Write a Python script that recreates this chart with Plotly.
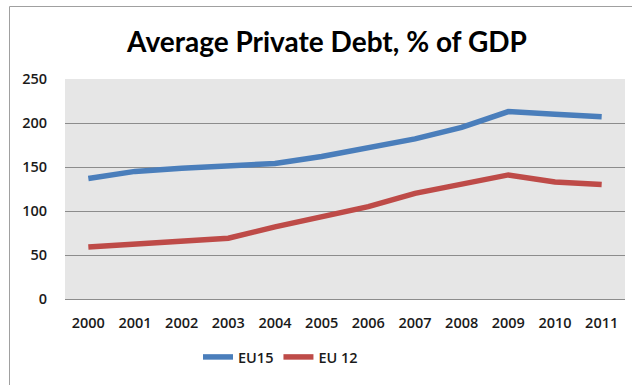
import plotly.graph_objects as go

years = ["2000", "2001", "2002", "2003", "2004", "2005",
         "2006", "2007", "2008", "2009", "2010", "2011"]
eu15 = [137, 145, 148.5, 152, 154, 162, 172, 182, 195, 213, 210, 207]
eu12 = [59, 62.5, 67, 69, 82, 93.5, 105, 120, 131, 141, 133, 130]
y_ticks = [0, 50, 100, 150, 200, 250]

FONT = "Lato"
TICK_FONT = dict(family="Open Sans", size=14.5, color="#1A1A1A", weight=600)

fig = go.Figure()
fig.add_trace(go.Scatter(x=years, y=eu15, mode="lines", name="EU15",
                         line=dict(color="#4A7EBB", width=5.5)))
fig.add_trace(go.Scatter(x=years, y=eu12, mode="lines", name="EU 12",
                         line=dict(color="#BE4B48", width=5.5)))

# outer chart frame (top and left edges)
frame = dict(type="line", xref="paper", yref="paper",
             line=dict(color="#A0A0A0", width=1))
fig.add_shape(**frame, x0=(9.5 - 65) / 560, x1=1.02,
              y0=(299 - 6.5) / 220, y1=(299 - 6.5) / 220)
fig.add_shape(**frame, x0=(9.5 - 65) / 560, x1=(9.5 - 65) / 560,
              y0=(299 - 390) / 220, y1=(299 - 6.5) / 220)

fig.update_layout(
    width=632, height=385,
    margin=dict(l=65, r=7, t=79, b=86),
    paper_bgcolor="white",
    plot_bgcolor="#E6E6E6",
    font=dict(family=FONT, size=15, color="#1A1A1A"),
    title=dict(text="Average Private Debt, % of GDP",
               font=dict(family=FONT, size=28, color="#000000", weight="bold"),
               x=327 / 632, xanchor="center", y=1 - 42 / 385, yanchor="middle"),
    showlegend=True,
    legend=dict(orientation="h", x=(198 - 65) / 560, xanchor="left",
                y=(299 - 357) / 220, yanchor="middle",
                font=TICK_FONT,
                itemwidth=30, tracegroupgap=0),
    xaxis=dict(type="category", range=[-0.5, 11.5], showgrid=False,
               showline=False, ticks="", ticklabelstandoff=13,
               tickfont=TICK_FONT),
    yaxis=dict(range=[0, 250], tickvals=y_ticks, showgrid=True,
               gridcolor="#8C8C8C", gridwidth=1, zeroline=True,
               zerolinecolor="#8C8C8C", zerolinewidth=1, showline=False,
               ticks="", ticklabelstandoff=17,
               tickfont=TICK_FONT),
)

fig.write_html("out.html")
